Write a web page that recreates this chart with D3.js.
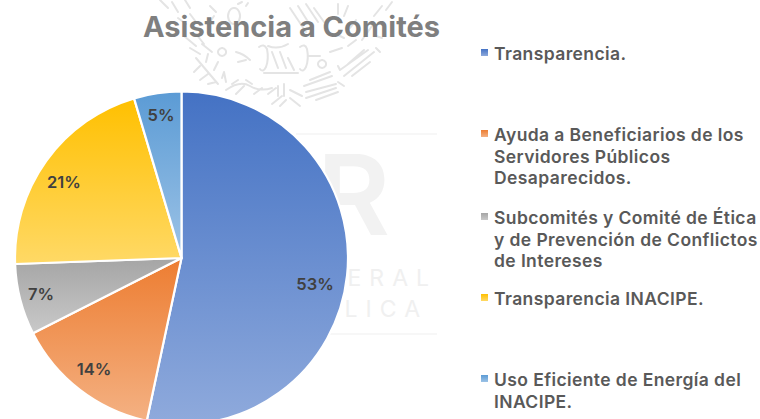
<!DOCTYPE html>
<html><head><meta charset="utf-8">
<script src="https://cdn.jsdelivr.net/npm/d3@7"></script>
<style>html,body{margin:0;padding:0;background:#fff;overflow:hidden}svg{display:block}text{font-family:Inter,"Open Sans",sans-serif}</style>
</head><body><svg id="c" width="760" height="419"></svg>
<script>
const categories = ["Transparencia.","Ayuda a Beneficiarios de los Servidores Públicos Desaparecidos.","Subcomités y Comité de Ética y de Prevención de Conflictos de Intereses","Transparencia INACIPE.","Uso Eficiente de Energía del INACIPE."];
const values = [53.4,14.2,6.9,21,4.6];
const percentLabels = ["53%","14%","7%","21%","5%"];
const colorsTop = ["#4472c4","#ed7d31","#a5a5a5","#ffc000","#5b9bd5"];
const colorsBottom = ["#8faadc","#f4b183","#c9c9c9","#ffd966","#9dc3e6"];
const legendLines = [["Transparencia."],["Ayuda a Beneficiarios de los","Servidores Públicos","Desaparecidos."],["Subcomités y Comité de Ética","y de Prevención de Conflictos","de Intereses"],["Transparencia INACIPE."],["Uso Eficiente de Energía del","INACIPE."]];
const legendY = [54,135,218,299,380];
const title = "Asistencia a Comités";

const svg = d3.select("#c");
const W = 760, H = 419, cx = 181.5, cy = 258, R = 166.5;

// faint watermark (background artwork of the slide)
const wm = svg.append("g");
const wreathPaths = [
  "M160 0 l8 8 M172 2 l6 10 M185 0 l5 8 M178 18 l8 6 M190 14 l6 8",
  "M184 36 l12 10 M190 48 l10 6 M196 34 l8 10 M202 44 l10 8",
  "M196 58 l22 26 M200 66 l-6 6 M206 62 l2 -8 M208 74 l-8 6 M214 70 l4 -8 M216 82 l-8 2 M222 78 l2 -6 M224 72 l2 10",
  "M226 90 q14 -10 24 -4 q10 6 22 2 M232 84 l6 -4 M236 94 l8 -8 M246 80 l6 4 M254 94 l8 -6",
  "M278 86 v10 M284 84 v12 M268 94 l8 -6 M290 90 l12 6 M272 104 l10 -8 M290 98 l10 8 M280 106 l6 -6",
  "M306 92 l30 -8 M304 86 l28 -10 M306 98 l30 -10 M310 80 l20 -8 M316 100 l22 -8",
  "M340 70 l28 -20 M344 76 l30 -24 M348 64 l16 -14 M352 76 l18 -14 M340 70 l-2 -4 M338 82 l6 4",
  "M376 48 l4 4 M382 38 l-6 -2",
  "M259 47 q5 -4 8 2 q2 10 -1 18 q-3 6 -6 2 M300 47 q5 -4 7 2 q2 10 -1 18 q-3 6 -6 2 M264 73 H298",
  "M272 52 l6 16 M280 52 l6 16 M288 58 l6 12 M268 46 q10 4 20 -2",
  "M222 48 a4 4 0 1 0 0.1 0 M322 60 a4 4 0 1 0 0.1 0 M236 52 q8 2 14 8 M238 62 l8 -2 M308 56 h12 M330 52 l12 -4",
  "M234 8 a6 8 0 1 0 0.1 0 M238 4 l4 -2 M246 6 l2 -3 M210 6 l6 6 M214 16 l-4 6",
  "M290 8 l16 24 M298 6 l14 22 M306 4 l12 18 M314 8 l10 14 M338 4 v10 M348 6 l-4 10 M382 6 l-8 10 M392 2 l-6 8 M372 26 l-10 14 M356 40 l-8 6 M350 28 l6 -8 M336 34 l8 4"
];
wm.append("g").attr("fill","none").attr("stroke","#e4e4e4").attr("stroke-width",2).attr("stroke-linecap","round")
  .selectAll("path").data(wreathPaths).join("path").attr("d",d=>d);
wm.append("line").attr("x1",296).attr("x2",437).attr("y1",134).attr("y2",134).attr("stroke","#f5f5f5").attr("stroke-width",1.5);
wm.append("line").attr("x1",296).attr("x2",437).attr("y1",334).attr("y2",334).attr("stroke","#f5f5f5").attr("stroke-width",1.5);
wm.append("text").attr("x",317).attr("y",235).attr("font-size",112).attr("font-weight",600).attr("fill","#f2f2f2").text("R");
wm.append("text").attr("x",437).attr("y",286).attr("font-size",23).attr("letter-spacing",8).attr("fill","#f0f0f0").attr("text-anchor","end").text("ERAL");
wm.append("text").attr("x",428).attr("y",317).attr("font-size",23).attr("letter-spacing",8).attr("fill","#f0f0f0").attr("text-anchor","end").text("BLICA");

// gradients
const defs = svg.append("defs");
const pie = d3.pie().sort(null).value(d=>d)(values);
const arc = d3.arc().innerRadius(0).outerRadius(R);
pie.forEach((p,i)=>{
  const ys = d3.range(0,21).map(k=>{const a=p.startAngle+(p.endAngle-p.startAngle)*k/20;return -Math.cos(a)*R;}).concat([0]);
  const g = defs.append("linearGradient").attr("id","s"+i).attr("gradientUnits","userSpaceOnUse")
    .attr("x1",0).attr("x2",0).attr("y1",d3.min(ys)).attr("y2",d3.max(ys));
  g.append("stop").attr("offset",0).attr("stop-color",colorsTop[i]);
  g.append("stop").attr("offset",1).attr("stop-color",colorsBottom[i]);
  const lg = defs.append("linearGradient").attr("id","lg"+i).attr("x1",0).attr("x2",0).attr("y1",0).attr("y2",1);
  lg.append("stop").attr("offset",0).attr("stop-color",colorsTop[i]);
  lg.append("stop").attr("offset",1).attr("stop-color",colorsBottom[i]);
});
const gp = svg.append("g").attr("transform",`translate(${cx},${cy})`);
gp.selectAll("path").data(pie).join("path").attr("d",arc)
  .attr("fill",(d,i)=>`url(#s${i})`).attr("stroke","#fff").attr("stroke-width",2.2).attr("stroke-linejoin","round");

const labelPos = [[315,284],[94,369],[41,294],[64,182],[161,115]];
svg.append("g").selectAll("text").data(percentLabels).join("text")
  .attr("x",(d,i)=>labelPos[i][0]).attr("y",(d,i)=>labelPos[i][1]+6)
  .attr("text-anchor","middle").attr("font-size",16.5).attr("font-weight",600).attr("fill","#404040").text(d=>d);

svg.append("text").attr("x",291.5).attr("y",37).attr("text-anchor","middle").attr("font-size",29).attr("font-weight",700).attr("fill","#7f7f7f").text(title);

const lg = svg.append("g");
legendLines.forEach((ls,i)=>{
  lg.append("rect").attr("x",481).attr("y",legendY[i]-5).attr("width",7).attr("height",7).attr("fill",`url(#lg${i})`);
  ls.forEach((t,j)=>{
    lg.append("text").attr("x",494).attr("y",legendY[i]+6+j*21.5).attr("font-size",17.5).attr("letter-spacing",0.4).attr("font-weight",600).attr("fill","#595959").text(t);
  });
});
</script></body></html>
